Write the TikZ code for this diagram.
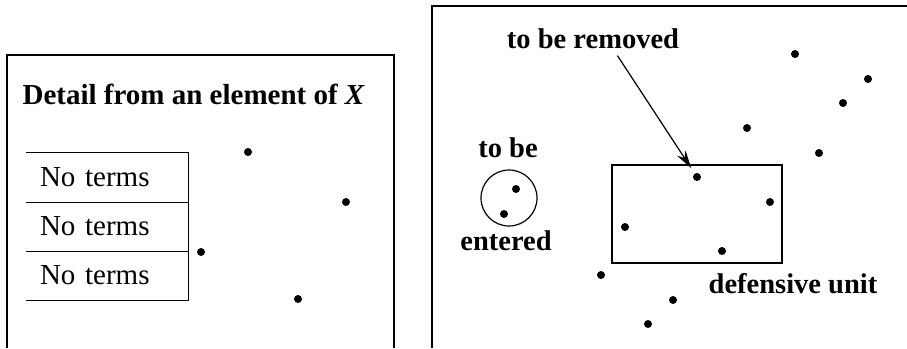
\documentclass[tikz,border=0pt]{standalone}
\usepackage{fontspec}
\setmainfont{Liberation Serif}
\usetikzlibrary{arrows.meta, positioning}

\begin{document}
\begin{tikzpicture}[
  x=1pt, y=-1pt, line width=1.2pt,
  dot/.style={circle, fill, inner sep=0pt, minimum size=8pt},
  cell/.style={minimum width=161pt, minimum height=49pt, inner sep=0pt, text width=135pt, align=left, font=\fontsize{29}{31}\selectfont},
  lab/.style={inner sep=0pt, anchor=base, font=\bfseries\fontsize{28.5}{30}\selectfont},
  arrow/.style={-{Stealth[length=18pt, width=10pt]}, line width=1.2pt}
]
\useasboundingbox (0,0) rectangle (907,348);

% left panel
\draw (7,348) -- (7,55) -- (394,55) -- (394,348);
\node[lab, anchor=base west, font=\bfseries\fontsize{29}{31}\selectfont] (title) at (22,104) {Detail from an element of \textit{X}};
\node[cell] (t1) at (107.5,177.5) {No terms};
\node[cell] (t2) at (107.5,226.5) {No terms};
\node[cell] (t3) at (107.5,275.5) {No terms};
\draw (t1.north west) -- (t1.north east) -- (t3.south east) -- (t3.south west);
\draw (t1.south west) -- (t1.south east);
\draw (t2.south west) -- (t2.south east);
\node[dot] (l1) at (248,152) {};
\node[dot] (l2) at (346,202) {};
\node[dot] (l3) at (201,252) {};
\node[dot] (l4) at (298,299) {};

% right panel
\draw (432,348) -- (432,6) -- (907,6);
\node[lab] (rem) at (593,48) {to be removed};
\node[lab] (tobe) at (508,157) {to be};
\node[lab] (ent) at (506,250) {entered};
\node[lab] (def) at (793,293) {defensive unit};

\node[draw, circle, minimum size=56pt] (entry) at (509,198) {};
\node[dot] (e1) at (516,189) {};
\node[dot] (e2) at (504,214) {};

\node[draw, minimum width=170pt, minimum height=98pt] (unit) at (697,214) {};
\node[dot] (u1) at (697,177) {};
\node[dot] (u2) at (770,202) {};
\node[dot] (u3) at (625,227) {};
\node[dot] (u4) at (722,251) {};

\node[dot] (r1) at (795,54) {};
\node[dot] (r2) at (868,79) {};
\node[dot] (r3) at (843,103) {};
\node[dot] (r4) at (747,128) {};
\node[dot] (r5) at (819,153) {};
\node[dot] (r6) at (601,275) {};
\node[dot] (r7) at (673,300) {};
\node[dot] (r8) at (648,324) {};

\draw[arrow, shorten <=8pt, shorten >=6pt] ([xshift=20pt]rem.south) -- (u1);
\end{tikzpicture}
\end{document}
